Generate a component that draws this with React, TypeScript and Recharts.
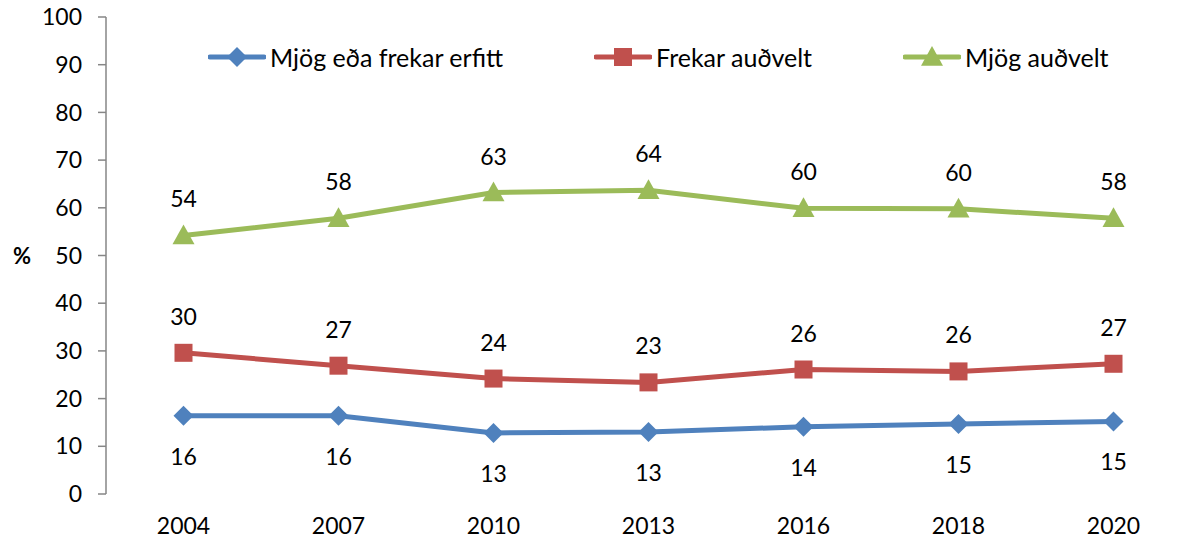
import React from "react";
import {
  LineChart,
  Line,
  XAxis,
  YAxis,
  Legend,
  LabelList,
  Label,
} from "recharts";

const years = ["2004", "2007", "2010", "2013", "2016", "2018", "2020"];
const veryHard = [16.4, 16.4, 12.8, 13.0, 14.1, 14.7, 15.2];
const fairlyEasy = [29.6, 26.9, 24.2, 23.4, 26.1, 25.7, 27.3];
const veryEasy = [54.2, 57.8, 63.2, 63.7, 59.9, 59.8, 57.8];
const yTicks = [0, 10, 20, 30, 40, 50, 60, 70, 80, 90, 100];
const edgeTicks = [0, 1, 2, 3, 4, 5, 6, 7];

const SERIES = [
  { key: "hard", name: "Mjög eða frekar erfitt", color: "#4F81BD", shape: "diamond", below: true },
  { key: "fair", name: "Frekar auðvelt", color: "#C0504D", shape: "square", below: false },
  { key: "easy", name: "Mjög auðvelt", color: "#9BBB59", shape: "triangle", below: false },
];

const data = years.map((y, i) => ({
  year: y,
  hard: veryHard[i],
  fair: fairlyEasy[i],
  easy: veryEasy[i],
}));

const FONT = "Lato, 'Open Sans', sans-serif";
const AXIS = "#868686";
const FS = 23;

function Marker({ cx, cy, shape, color }: any) {
  if (cx == null || cy == null) return null;
  if (shape === "diamond") {
    const r = 10;
    return (
      <path
        d={`M${cx},${cy - r}L${cx + r},${cy}L${cx},${cy + r}L${cx - r},${cy}Z`}
        fill={color}
      />
    );
  }
  if (shape === "square") {
    const r = 9;
    return <rect x={cx - r} y={cy - r} width={2 * r} height={2 * r} fill={color} />;
  }
  const r = 11;
  return (
    <path
      d={`M${cx},${cy - r}L${cx + r},${cy + r * 0.8}L${cx - r},${cy + r * 0.8}Z`}
      fill={color}
    />
  );
}

function ValueLabel({ x, y, value, below }: any) {
  return (
    <text
      x={x}
      y={below ? y + 40 : y - 37}
      textAnchor="middle"
      dominantBaseline="central"
      fontSize={FS}
      fontFamily={FONT}
      fill="#000"
    >
      {Math.round(value)}
    </text>
  );
}

function LegendContent() {
  return (
    <div style={{ display: "flex", gap: 91, fontFamily: FONT, fontSize: 25, whiteSpace: "nowrap" }}>
      {SERIES.map((s) => (
        <div key={s.key} style={{ display: "flex", alignItems: "center" }}>
          <svg width={58} height={24} style={{ marginRight: 4 }}>
            <line x1={2} y1={12} x2={56} y2={12} stroke={s.color} strokeWidth={5} strokeLinecap="round" />
            <Marker cx={29} cy={12} shape={s.shape} color={s.color} />
          </svg>
          <span style={{ color: "#000" }}>{s.name}</span>
        </div>
      ))}
    </div>
  );
}

export default function App() {
  return (
    <div style={{ position: "absolute", left: 0, top: 0, background: "#fff" }}>
      <LineChart
        width={1193}
        height={541}
        data={data}
        margin={{ top: 17, right: 2, bottom: 10, left: 10 }}
      >
        <XAxis
          xAxisId="edges"
          type="number"
          domain={[0, 7]}
          ticks={edgeTicks}
          tick={false}
          height={0}
          tickSize={8}
          stroke={AXIS}
          axisLine={{ stroke: AXIS, strokeWidth: 1.5 }}
          tickLine={{ stroke: AXIS, strokeWidth: 1.5 }}
          allowDataOverflow
        />
        <XAxis
          dataKey="year"
          scale="band"
          height={37}
          axisLine={false}
          tickLine={false}
          tickMargin={18}
          tick={{ fontSize: FS, fill: "#000", fontFamily: FONT }}
        />
        <YAxis
          domain={[0, 100]}
          ticks={yTicks}
          width={96}
          tickSize={8}
          tickMargin={16}
          axisLine={{ stroke: AXIS, strokeWidth: 1.5 }}
          tickLine={{ stroke: AXIS, strokeWidth: 1.5 }}
          tick={{ fontSize: FS, fill: "#000", fontFamily: FONT }}
          interval={0}
        >
          <Label
            content={({ viewBox }: any) => (
              <text
                x={viewBox.x + 12}
                y={viewBox.y + viewBox.height / 2}
                textAnchor="middle"
                dominantBaseline="central"
                fontSize={22}
                fontWeight="bold"
                fontFamily={FONT}
                fill="#000"
              >
                %
              </text>
            )}
          />
        </YAxis>
        <Legend
          verticalAlign="middle"
          content={<LegendContent />}
          wrapperStyle={{ top: 42, left: 208, width: "auto" }}
        />
        {SERIES.map((s) => (
          <Line
            key={s.key}
            dataKey={s.key}
            name={s.name}
            stroke={s.color}
            strokeWidth={5}
            isAnimationActive={false}
            dot={(p: any) => <Marker key={p.index} cx={p.cx} cy={p.cy} shape={s.shape} color={s.color} />}
            activeDot={false}
          >
            <LabelList dataKey={s.key} content={(p: any) => <ValueLabel {...p} below={s.below} />} />
          </Line>
        ))}
      </LineChart>
    </div>
  );
}
